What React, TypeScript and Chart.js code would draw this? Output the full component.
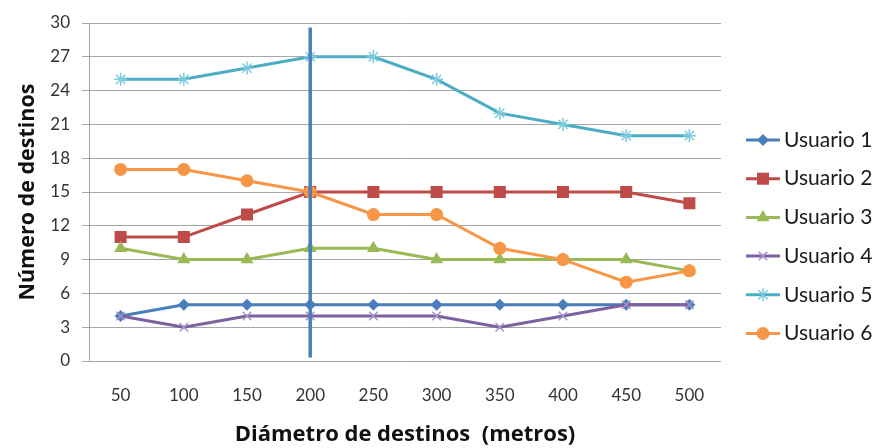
import { useEffect, useRef } from "react";
import { Chart, registerables } from "chart.js";

Chart.register(...registerables);

const diameters = ["50", "100", "150", "200", "250", "300", "350", "400", "450", "500"];
const usuario1 = [4, 5, 5, 5, 5, 5, 5, 5, 5, 5];
const usuario2 = [11, 11, 13, 15, 15, 15, 15, 15, 15, 14];
const usuario3 = [10, 9, 9, 10, 10, 9, 9, 9, 9, 8];
const usuario4 = [4, 3, 4, 4, 4, 4, 3, 4, 5, 5];
const usuario5 = [25, 25, 26, 27, 27, 25, 22, 21, 20, 20];
const usuario6 = [17, 17, 16, 15, 13, 13, 10, 9, 7, 8];

const seriesNames = ["Usuario 1", "Usuario 2", "Usuario 3", "Usuario 4", "Usuario 5", "Usuario 6"];
const seriesValues = [usuario1, usuario2, usuario3, usuario4, usuario5, usuario6];
const lineColors = ["#4A7EBB", "#BE4B48", "#98B954", "#7D60A0", "#4BACC6", "#F79646"];
const markerColors = ["#4A7EBB", "#BE4B48", "#98B954", "#A594C6", "#7FCBDD", "#F79646"];
const markerStyles = ["rectRot", "rect", "triangle", "crossRot", "star", "circle"];
const markerRadii = [6, 8.5, 7.5, 6, 6.5, 6.5];

// vertical reference line at the chosen diameter
const markerCategory = "200";
const markerSpan = [0.3, 29.6];

const FONT = "Lato, 'Open Sans', sans-serif";
const TITLE_FONT = "'Open Sans', Lato, sans-serif";

function drawMarker(ctx: CanvasRenderingContext2D, style: string, x: number, y: number, r: number, color: string) {
  ctx.save();
  ctx.fillStyle = color;
  ctx.strokeStyle = color;
  ctx.lineWidth = 1.5;
  ctx.beginPath();
  if (style === "rect") {
    const s = r * Math.SQRT1_2;
    ctx.rect(x - s, y - s, 2 * s, 2 * s);
    ctx.fill();
  } else if (style === "rectRot") {
    ctx.moveTo(x, y - r);
    ctx.lineTo(x + r, y);
    ctx.lineTo(x, y + r);
    ctx.lineTo(x - r, y);
    ctx.closePath();
    ctx.fill();
  } else if (style === "triangle") {
    const h = r * 1.5;
    const w = r * Math.sqrt(3) / 2;
    ctx.moveTo(x, y - r);
    ctx.lineTo(x + w, y - r + h);
    ctx.lineTo(x - w, y - r + h);
    ctx.closePath();
    ctx.fill();
  } else if (style === "crossRot") {
    const d = r * Math.SQRT1_2;
    ctx.moveTo(x - d, y - d);
    ctx.lineTo(x + d, y + d);
    ctx.moveTo(x + d, y - d);
    ctx.lineTo(x - d, y + d);
    ctx.stroke();
  } else if (style === "star") {
    const d = r * Math.SQRT1_2;
    ctx.moveTo(x - d, y - d);
    ctx.lineTo(x + d, y + d);
    ctx.moveTo(x + d, y - d);
    ctx.lineTo(x - d, y + d);
    ctx.moveTo(x, y - r);
    ctx.lineTo(x, y + r);
    ctx.stroke();
  } else {
    ctx.arc(x, y, r, 0, Math.PI * 2);
    ctx.fill();
  }
  ctx.restore();
}

const referenceLine = {
  id: "referenceLine",
  afterDatasetsDraw(chart: any) {
    const xs = chart.scales.x;
    const ys = chart.scales.y;
    const idx = diameters.indexOf(markerCategory);
    const x = xs.getPixelForValue(idx);
    const ctx = chart.ctx;
    ctx.save();
    ctx.strokeStyle = "#4A7EBB";
    ctx.lineWidth = 3.5;
    ctx.beginPath();
    ctx.moveTo(x, ys.getPixelForValue(markerSpan[1]));
    ctx.lineTo(x, ys.getPixelForValue(markerSpan[0]));
    ctx.stroke();
    ctx.restore();
  },
};

const sideLegend = {
  id: "sideLegend",
  afterDraw(chart: any) {
    const ctx = chart.ctx;
    const area = chart.chartArea;
    const x0 = area.right + 25;
    const y0 = area.top + 117;
    const step = 38.7;
    ctx.save();
    chart.data.datasets.forEach((ds: any, i: number) => {
      const y = y0 + i * step;
      ctx.strokeStyle = lineColors[i];
      ctx.lineWidth = 3;
      ctx.beginPath();
      ctx.moveTo(x0, y);
      ctx.lineTo(x0 + 34, y);
      ctx.stroke();
      drawMarker(ctx, markerStyles[i], x0 + 17, y, markerRadii[i], markerColors[i]);
      ctx.fillStyle = "#1a1a1a";
      ctx.font = `21px ${FONT}`;
      ctx.textBaseline = "middle";
      ctx.textAlign = "left";
      ctx.fillText(ds.label, x0 + 38, y);
    });
    ctx.restore();
  },
};

export default function App() {
  const canvasRef = useRef<HTMLCanvasElement | null>(null);

  useEffect(() => {
    document.body.style.margin = "0";
    const canvas = canvasRef.current;
    if (!canvas) return;
    const chart = new Chart(canvas, {
      type: "line",
      data: {
        labels: diameters,
        datasets: seriesNames.map((name, i) => ({
          label: name,
          data: seriesValues[i],
          borderColor: lineColors[i],
          backgroundColor: markerColors[i],
          pointBorderColor: markerColors[i],
          pointBackgroundColor: markerColors[i],
          pointStyle: markerStyles[i] as any,
          pointRadius: markerRadii[i],
          pointBorderWidth: markerStyles[i] === "crossRot" || markerStyles[i] === "star" ? 1.5 : 0,
          borderWidth: 3,
          tension: 0,
          fill: false,
          order: seriesNames.length - i,
        })),
      },
      options: {
        animation: false,
        responsive: false,
        maintainAspectRatio: false,
        layout: { padding: { top: 23, right: 155, left: 0, bottom: 0 } },
        plugins: {
          legend: { display: false },
          tooltip: { enabled: false },
        },
        scales: {
          x: {
            offset: true,
            grid: { display: false, drawTicks: false },
            border: { display: false },
            ticks: { color: "#333333", font: { family: FONT, size: 17 }, padding: 24, maxRotation: 0 },
            title: {
              display: true,
              text: "Diámetro de destinos  (metros)",
              color: "#111111",
              font: { family: TITLE_FONT, size: 22, weight: "bold" },
              padding: { top: 0, bottom: 0 },
            },
            afterFit(scale: any) {
              scale.height = 87;
            },
          },
          y: {
            min: 0,
            max: 30,
            ticks: { stepSize: 3, color: "#333333", font: { family: FONT, size: 17 }, padding: 12 },
            grid: { color: "#A6A6A6", lineWidth: 1, drawTicks: true, tickLength: 7 },
            border: { display: true, color: "#A6A6A6", width: 1 },
            title: {
              display: true,
              text: "Número de destinos",
              color: "#111111",
              font: { family: TITLE_FONT, size: 21.5, weight: "bold" },
              padding: { top: 15, bottom: 0 },
            },
            afterFit(scale: any) {
              scale.width = 89;
            },
          },
        },
      },
      plugins: [referenceLine, sideLegend],
    });
    return () => chart.destroy();
  }, []);

  return (
    <div style={{ width: 876, height: 448 }}>
      <canvas ref={canvasRef} width={876} height={448} style={{ display: "block" }} />
    </div>
  );
}
